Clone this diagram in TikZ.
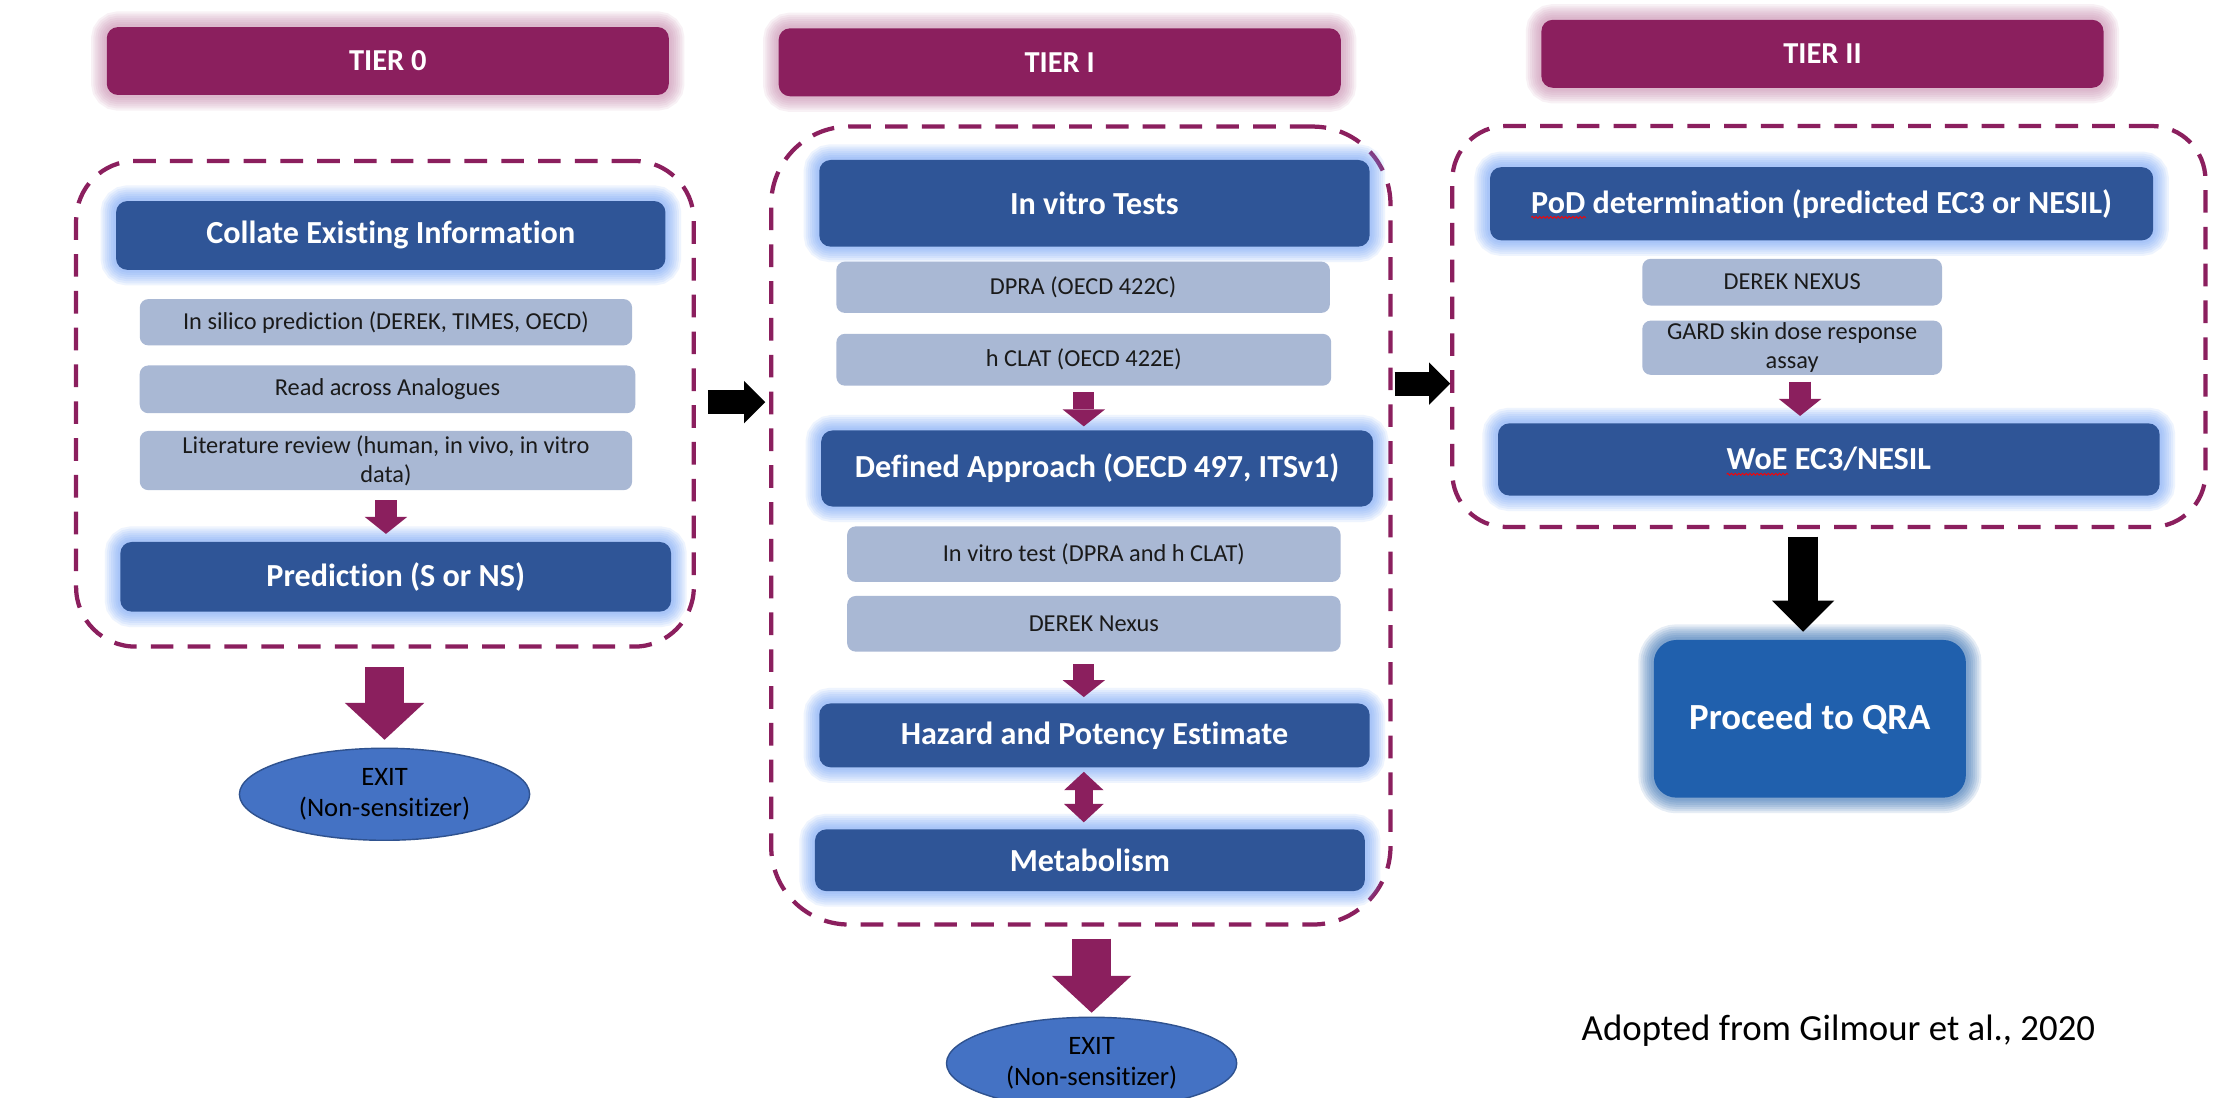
\documentclass[tikz,border=0pt]{standalone}
\usepackage{fontspec}
\setmainfont{Carlito}[Ligatures=NoCommon]
\usetikzlibrary{arrows.meta,shapes.geometric,decorations.pathmorphing}

\definecolor{tiermaroon}{RGB}{139,31,94}
\definecolor{tierglow}{RGB}{196,130,168}
\definecolor{boxblue}{RGB}{47,85,151}
\definecolor{boxglow}{RGB}{105,155,248}
\definecolor{subfill}{RGB}{169,184,212}
\definecolor{subtext}{RGB}{26,26,26}
\definecolor{exitfill}{RGB}{68,114,196}
\definecolor{exitline}{RGB}{47,82,143}
\definecolor{qrablue}{RGB}{32,96,173}

\newcommand\fTier{\fontsize{21.5pt}{25pt}\selectfont\bfseries}
\newcommand\fMain{\fontsize{22.7pt}{27pt}\selectfont\bfseries}
\newcommand\fSub{\fontsize{17.2pt}{20.5pt}\selectfont}
\newcommand\fExit{\fontsize{18.8pt}{21.5pt}\selectfont}
\newcommand\fBig{\fontsize{26pt}{30pt}\selectfont}

\tikzset{
  dims/.style 2 args={minimum width=#1pt, minimum height=#2pt},
  % soft halo: stacked translucent strokes of the node outline
  halo/.style={
    preaction={draw=#1, opacity=0.11, line width=22pt},
    preaction={draw=#1, opacity=0.11, line width=19pt},
    preaction={draw=#1, opacity=0.11, line width=16pt},
    preaction={draw=#1, opacity=0.11, line width=13pt},
    preaction={draw=#1, opacity=0.11, line width=10pt},
    preaction={draw=#1, opacity=0.11, line width=7pt},
    preaction={draw=#1, opacity=0.11, line width=4pt}},
  tierhead/.style={halo=tierglow, fill=tiermaroon, text=white, font=\fTier,
    rounded corners=8pt, minimum width=397pt, minimum height=48pt, inner sep=0pt},
  mainbox/.style={halo=boxglow, fill=boxblue, text=white, font=\fMain,
    rounded corners=8pt, inner sep=0pt},
  subbox/.style={fill=subfill, text=subtext, font=\fSub, rounded corners=6pt,
    inner sep=0pt, align=center},
  exitnode/.style={ellipse, fill=exitfill, draw=exitline, line width=1pt,
    text=black, font=\fExit, align=center, minimum width=205pt,
    minimum height=65pt, inner sep=0pt},
  qrabox/.style={halo=qrablue, fill=qrablue, text=white, font=\fBig\bfseries,
    rounded corners=16pt, inner sep=0pt},
  tierframe/.style={draw=tiermaroon, line width=3pt, dash pattern=on 16pt off 10pt,
    inner sep=0pt},
  flowsmall/.style={color=tiermaroon, line width=15pt,
    -{Triangle[width=30pt 0 0, length=12pt 0 0, line width=0pt 0 0]}},
  flowbig/.style={color=tiermaroon, line width=28pt,
    -{Triangle[width=56pt 0 0, length=26pt 0 0, line width=0pt 0 0]}},
  flowtwo/.style={color=tiermaroon, line width=13pt,
    {Triangle[width=28pt 0 0, length=13pt 0 0, line width=0pt 0 0]}-{Triangle[width=28pt 0 0, length=13pt 0 0, line width=0pt 0 0]}},
  stepblack/.style={color=black, line width=17pt,
    -{Triangle[width=30pt 0 0, length=15pt 0 0, line width=0pt 0 0]}},
  downblack/.style={color=black, line width=21pt,
    -{Triangle[width=44pt 0 0, length=22pt 0 0, line width=0pt 0 0]}},
  spellmark/.style={draw=red, line width=0.6pt, decorate,
    decoration={snake, amplitude=0.7pt, segment length=2.6pt}}
}

\begin{document}
\begin{tikzpicture}[x=1pt, y=-1pt]
\useasboundingbox (0,0) rectangle (1568,775);
\fill[white] (0,0) rectangle (1568,775);

% ---------------- Tier 0 ----------------
\node[tierframe, rounded corners=42pt, dims={436.3}{343}] (f0) at (271.9,285.2) {};
\node[tierhead] (h0) at (273.9,43.1) {TIER 0};
\node[mainbox, dims={388}{48.6}] (collate) at (276,166.3) {Collate Existing Information};
\node[subbox, dims={347.7}{32.7}] (silico) at (272.6,227.6) {In silico prediction (DEREK, TIMES, OECD)};
\node[subbox, dims={350}{33.7}] (across) at (273.7,275) {Read across Analogues};
\node[subbox, dims={347.7}{41.8}] (review) at (272.6,325.3) {Literature review (human, in vivo, in vitro\\data)};
\node[mainbox, dims={389}{49.2}] (pred) at (279.5,407.4) {Prediction (S or NS)};
\node[exitnode] (exit0) at (271.6,561) {EXIT\\(Non-sensitizer)};

\draw[flowsmall, shorten <=7pt, shorten >=5.5pt] (review.south) -- (review.south |- pred.north);
\draw[flowbig, shorten <=13pt, shorten >=5.5pt] (f0.south -| exit0.north) -- (exit0.north);

% ---------------- Tier I ----------------
\node[tierframe, rounded corners=55pt, dims={437.4}{563.6}] (f1) at (763.4,371.2) {};
\node[tierhead] (h1) at (748.5,44) {TIER I};
\node[mainbox, dims={388.7}{61.2}] (vitro) at (773,143.6) {In vitro Tests};
\node[subbox, dims={348.6}{36.2}] (dpra) at (765,202.9) {DPRA (OECD 422C)};
\node[subbox, dims={349.5}{36.6}] (hclat) at (765.5,254.1) {h CLAT (OECD 422E)};
\node[mainbox, dims={389.8}{53.7}] (defined) at (774.9,330.9) {Defined Approach (OECD 497, ITSv1)};
\node[subbox, dims={348.5}{39.2}] (vitrotest) at (772.6,391.4) {In vitro test (DPRA and h CLAT)};
\node[subbox, dims={348.5}{39.3}] (derek1) at (772.6,440.6) {DEREK Nexus};
\node[mainbox, dims={388.7}{45.1}] (hazard) at (773,519.4) {Hazard and Potency Estimate};
\node[mainbox, dims={388.4}{43.6}] (metab) at (769.8,607.6) {Metabolism};
\node[exitnode] (exit1) at (771,751) {EXIT\\(Non-sensitizer)};

\draw[flowsmall, shorten <=4.6pt, shorten >=2.7pt] (hclat.south) -- (hclat.south |- defined.north);
\draw[flowsmall, shorten <=8.6pt, shorten >=4.3pt] (hclat.south |- derek1.south) -- (hclat.south |- hazard.north);
\draw[flowtwo, shorten <=3pt, shorten >=4.8pt] (hclat.south |- hazard.south) -- (hclat.south |- metab.north);
\draw[flowbig, shorten <=8.4pt, shorten >=2.7pt] (f1.south -| exit1.north) -- (exit1.north);

% ---------------- Tier II ----------------
\node[tierframe, rounded corners=38pt, dims={531.9}{283.2}] (f2) at (1291.75,230.6) {};
\node[tierhead] (h2) at (1287.2,38) {TIER II};
\node[mainbox, dims={468.4}{51.7}] (pod) at (1286.6,143.9) {PoD determination (predicted EC3 or NESIL)};
\node[subbox, dims={211.7}{33}] (derek2) at (1265.8,199.3) {DEREK NEXUS};
\node[subbox, dims={211.7}{38.3}] (gard) at (1265.8,245.6) {GARD skin dose response\\assay};
\node[mainbox, dims={467.3}{51}] (woe) at (1291.7,324.5) {WoE EC3/NESIL};
\node[qrabox, dims={220.4}{111.4}] (qra) at (1278.3,507.7) {Proceed to QRA};
\node[font=\fBig, text=black, inner sep=0pt] (credit) at (1298.5,728) {Adopted from Gilmour et al., 2020};

\draw[flowsmall, shorten <=4.6pt, shorten >=5pt] ([xshift=5.6pt]gard.south) -- ([xshift=5.6pt]gard.south |- woe.north);

% spell-check marks under the abbreviations
\draw[spellmark] ([yshift=-3pt]pod.text) -- ++(38.6,0);
\draw[spellmark] ([yshift=-3pt]woe.text) -- ++(43.5,0);

% ---------------- links between tiers ----------------
\coordinate (gap1) at (490,284);
\coordinate (gap2) at (982,271);
\coordinate (drop) at (1273.6,372.2);
\draw[stepblack, shorten <=10pt, shorten >=2.7pt] (gap1) -- (gap1 -| f1.west);
\draw[stepblack, shorten <=3pt] (gap2) -- (gap2 -| f2.west);
\draw[downblack, shorten <=6.8pt, shorten >=5.6pt] (drop) -- (drop |- qra.north);
\end{tikzpicture}
\end{document}
